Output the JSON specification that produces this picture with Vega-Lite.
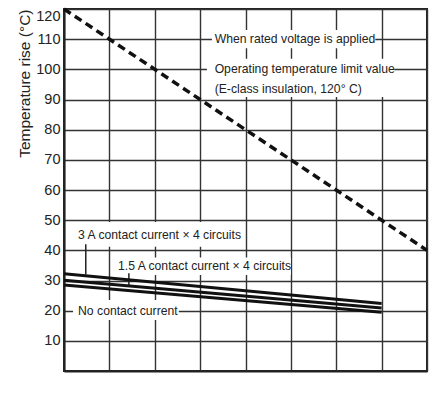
{
  "$schema": "https://vega.github.io/schema/vega-lite/v6.json",
  "width": 363,
  "height": 362,
  "autosize": {"type": "none"},
  "padding": {"left": 64, "top": 9, "right": 6, "bottom": 45},
  "background": "white",
  "config": {
    "font": "Liberation Sans",
    "view": {"stroke": "#222", "strokeWidth": 2}
  },
  "datasets": {
    "curves": [
      {"x": 0, "y": 32.2, "s": "3 A contact current × 4 circuits"},
      {"x": 7, "y": 22.4, "s": "3 A contact current × 4 circuits"},
      {"x": 0, "y": 30.1, "s": "1.5 A contact current × 4 circuits"},
      {"x": 7, "y": 20.9, "s": "1.5 A contact current × 4 circuits"},
      {"x": 0, "y": 28.5, "s": "No contact current"},
      {"x": 7, "y": 19.5, "s": "No contact current"}
    ],
    "limit": [
      {"x": 0, "y": 120},
      {"x": 8, "y": 40}
    ],
    "boxes": [
      {"x": 3.26, "x2": 6.86, "y": 113, "y2": 107},
      {"x": 3.15, "x2": 7.28, "y": 103.5, "y2": 90.8},
      {"x": 0.24, "x2": 3.9, "y": 49.4, "y2": 41.2},
      {"x": 1.12, "x2": 5.0, "y": 37.6, "y2": 31.8},
      {"x": 0.2, "x2": 2.53, "y": 23.5, "y2": 16.9}
    ],
    "leaders": [
      {"x": 0.48, "y": 42.0, "y2": 32.0},
      {"x": 1.43, "y": 32.4, "y2": 28.4}
    ],
    "labels": [
      {"x": 3.32, "y": 110, "t": "When rated voltage is applied"},
      {"x": 3.32, "y": 100, "t": "Operating temperature limit value"},
      {"x": 3.32, "y": 93.5, "t": "(E-class insulation, 120° C)"},
      {"x": 0.31, "y": 45, "t": "3 A contact current × 4 circuits"},
      {"x": 1.19, "y": 34.9, "t": "1.5 A contact current × 4 circuits"},
      {"x": 0.31, "y": 20, "t": "No contact current"}
    ]
  },
  "encoding": {
    "x": {
      "type": "quantitative",
      "scale": {"domain": [0, 8], "nice": false, "zero": false},
      "axis": {
        "values": [0, 1, 2, 3, 4, 5, 6, 7, 8],
        "labels": false,
        "ticks": false,
        "title": null,
        "domain": true,
        "domainColor": "#222",
        "domainWidth": 2,
        "grid": true,
        "gridColor": "#333",
        "gridWidth": 1.4,
        "gridOpacity": 1
      }
    },
    "y": {
      "type": "quantitative",
      "scale": {"domain": [0, 120], "nice": false, "zero": true},
      "axis": {
        "values": [10, 20, 30, 40, 50, 60, 70, 80, 90, 100, 110, 120],
        "title": "Temperature rise (°C)",
        "titleFont": "Liberation Sans",
        "titleFontSize": 15.5,
        "titleFontWeight": "normal",
        "titleColor": "#222",
        "titlePadding": 3,
        "titleAnchor": "end",
        "labelFont": "Liberation Sans",
        "labelFontSize": 14.5,
        "labelColor": "#222",
        "labelPadding": 4,
        "labelFlush": true,
        "ticks": false,
        "domain": true,
        "domainColor": "#222",
        "domainWidth": 2,
        "grid": true,
        "gridColor": "#333",
        "gridWidth": 1.4,
        "gridOpacity": 1
      }
    }
  },
  "layer": [
    {
      "data": {"name": "boxes"},
      "mark": {"type": "rect", "fill": "white", "stroke": null},
      "encoding": {
        "x": {"field": "x", "type": "quantitative"},
        "x2": {"field": "x2"},
        "y": {"field": "y", "type": "quantitative"},
        "y2": {"field": "y2"}
      }
    },
    {
      "data": {"name": "leaders"},
      "mark": {"type": "rule", "color": "#222", "strokeWidth": 1.5},
      "encoding": {
        "x": {"field": "x", "type": "quantitative"},
        "y": {"field": "y", "type": "quantitative"},
        "y2": {"field": "y2"}
      }
    },
    {
      "data": {"name": "curves"},
      "mark": {"type": "line", "color": "#111", "strokeWidth": 3},
      "encoding": {
        "x": {"field": "x", "type": "quantitative"},
        "y": {"field": "y", "type": "quantitative"},
        "detail": {"field": "s", "type": "nominal"}
      }
    },
    {
      "data": {"name": "limit"},
      "mark": {"type": "line", "color": "#111", "strokeWidth": 3.5, "strokeDash": [8, 5]},
      "encoding": {
        "x": {"field": "x", "type": "quantitative"},
        "y": {"field": "y", "type": "quantitative"}
      }
    },
    {
      "data": {"name": "labels"},
      "mark": {"type": "text", "align": "left", "baseline": "middle", "font": "Liberation Sans", "fontSize": 12.2, "color": "#222"},
      "encoding": {
        "x": {"field": "x", "type": "quantitative"},
        "y": {"field": "y", "type": "quantitative"},
        "text": {"field": "t"}
      }
    }
  ]
}
